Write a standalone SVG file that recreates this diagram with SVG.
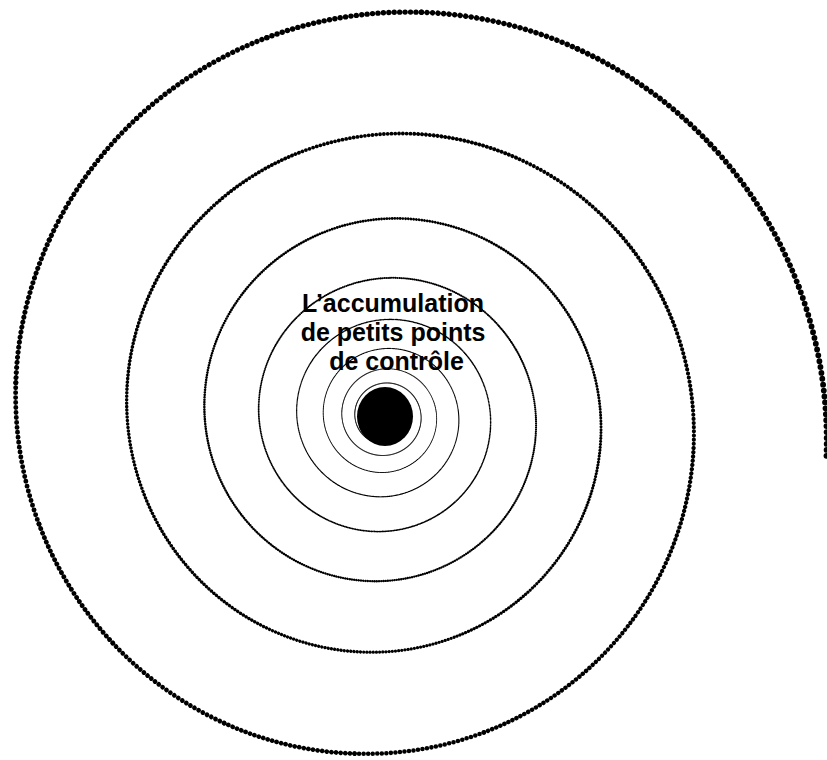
<svg xmlns="http://www.w3.org/2000/svg" width="827" height="760" viewBox="0 0 827 760">
<style>
.dots { fill: none; stroke: #000; stroke-linecap: round; stroke-dasharray: 0 1; }
.label { font-family: "Liberation Sans", Arial, sans-serif; font-weight: bold; font-size: 25px; fill: #000; text-anchor: middle; }
</style>
<defs>
<path id="seg" class="dots" pathLength="29" d="M441.471,39.840 C443.403,-18.433 433.822,-75.846 413.760,-129.215"/>
<g id="quarter">
<use href="#seg"/>
<use href="#seg" transform="rotate(-22.5) scale(0.977896)"/>
<use href="#seg" transform="rotate(-45) scale(0.956281)"/>
<use href="#seg" transform="rotate(-67.5) scale(0.935143)"/>
</g>
</defs>
<rect width="827" height="760" fill="#fff"/>
<g id="spiral" transform="translate(385,416)">
<use href="#quarter" style="stroke-width:5.851"/>
<use href="#quarter" transform="rotate(-90) scale(0.914473)" style="stroke-width:5.880"/>
<use href="#quarter" transform="rotate(-180) scale(0.836261)" style="stroke-width:5.912"/>
<use href="#quarter" transform="rotate(-270) scale(0.764738)" style="stroke-width:5.947"/>
<use href="#quarter" transform="scale(0.699333)" style="stroke-width:5.986"/>
<use href="#quarter" transform="rotate(-90) scale(0.639522)" style="stroke-width:6.028"/>
<use href="#quarter" transform="rotate(-180) scale(0.584826)" style="stroke-width:6.073"/>
<use href="#quarter" transform="rotate(-270) scale(0.534808)" style="stroke-width:6.124"/>
<use href="#quarter" transform="scale(0.489067)" style="stroke-width:6.178"/>
<use href="#quarter" transform="rotate(-90) scale(0.447239)" style="stroke-width:6.238"/>
<use href="#quarter" transform="rotate(-180) scale(0.408988)" style="stroke-width:6.304"/>
<use href="#quarter" transform="rotate(-270) scale(0.374008)" style="stroke-width:6.376"/>
<use href="#quarter" transform="scale(0.342020)" style="stroke-width:6.454"/>
<use href="#quarter" transform="rotate(-90) scale(0.312768)" style="stroke-width:6.540"/>
<use href="#quarter" transform="rotate(-180) scale(0.286019)" style="stroke-width:6.634"/>
<use href="#quarter" transform="rotate(-270) scale(0.261556)" style="stroke-width:6.736"/>
<use href="#quarter" transform="scale(0.239186)" style="stroke-width:6.849"/>
<use href="#quarter" transform="rotate(-90) scale(0.218729)" style="stroke-width:6.971"/>
<use href="#quarter" transform="rotate(-180) scale(0.200022)" style="stroke-width:7.105"/>
<use href="#quarter" transform="rotate(-270) scale(0.182914)" style="stroke-width:7.252"/>
<use href="#quarter" transform="scale(0.167270)" style="stroke-width:7.412"/>
<use href="#quarter" transform="rotate(-90) scale(0.152964)" style="stroke-width:7.588"/>
<use href="#quarter" transform="rotate(-180) scale(0.139882)" style="stroke-width:7.780"/>
<use href="#quarter" transform="rotate(-270) scale(0.127918)" style="stroke-width:7.989"/>
<use href="#quarter" transform="scale(0.116978)" style="stroke-width:8.219"/>
<use href="#quarter" transform="rotate(-90) scale(0.106973)" style="stroke-width:8.470"/>
<use href="#quarter" transform="rotate(-180) scale(0.097824)" style="stroke-width:8.744"/>
<use href="#quarter" transform="rotate(-270) scale(0.089457)" style="stroke-width:9.044"/>
<use href="#quarter" transform="scale(0.081807)" style="stroke-width:9.372"/>
<use href="#quarter" transform="rotate(-90) scale(0.074810)" style="stroke-width:9.731"/>
<use href="#quarter" transform="rotate(-180) scale(0.068412)" style="stroke-width:10.123"/>
<use href="#quarter" transform="rotate(-270) scale(0.062561)" style="stroke-width:10.552"/>
</g>
<g id="center">
<ellipse cx="385" cy="416.5" rx="28" ry="29.5" fill="#000"/>
</g>
<g id="label">
<text class="label">
<tspan x="396.5" y="312">L’accumulation</tspan>
<tspan x="396.5" y="341">de petits points</tspan>
<tspan x="396.5" y="370">de contrôle</tspan>
</text>
</g>
</svg>
